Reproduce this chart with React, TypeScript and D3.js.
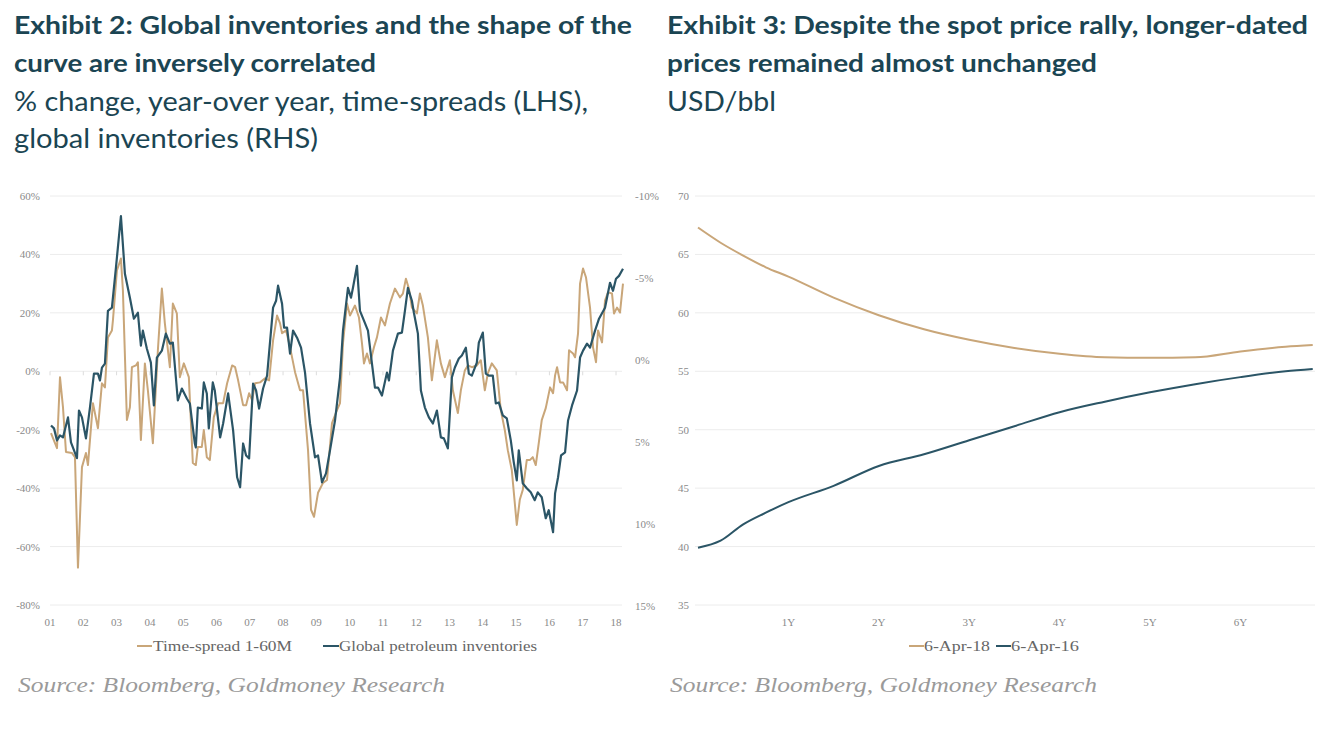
import React from "react";
import * as d3 from "d3";

// ---------- Exhibit 2 data ----------
const tanSeries: [number, number][] = [
  [2001.03, -21.2], [2001.21, -26.3], [2001.3, -2.0], [2001.39, -12.3], [2001.48, -27.6],
  [2001.66, -28.0], [2001.75, -29.4], [2001.84, -67.2], [2001.96, -32.8], [2002.08, -28.0],
  [2002.14, -32.1], [2002.29, -10.9], [2002.44, -19.5], [2002.56, -4.1], [2002.65, -5.5],
  [2002.74, 11.6], [2002.86, 14.0], [2002.89, 17.4], [2003.01, 34.5], [2003.13, 38.6],
  [2003.19, 27.6], [2003.31, -16.7], [2003.4, -12.3], [2003.46, 1.4], [2003.58, 2.0],
  [2003.64, 3.1], [2003.73, -23.5], [2003.85, 2.7], [2003.94, -6.5], [2004.09, -24.6],
  [2004.24, 7.2], [2004.36, 28.3], [2004.45, 16.4], [2004.6, 1.4], [2004.69, 23.2],
  [2004.81, 19.8], [2004.9, -2.0], [2005.02, 2.7], [2005.17, -2.0], [2005.29, -31.4],
  [2005.38, -32.1], [2005.44, -25.9], [2005.56, -25.9], [2005.62, -20.1], [2005.71, -29.4],
  [2005.8, -30.4], [2005.92, -15.7], [2006.05, -10.9], [2006.2, -10.9], [2006.32, -4.1],
  [2006.47, 2.0], [2006.56, 1.4], [2006.65, -3.1], [2006.8, -11.6], [2006.89, -11.6],
  [2006.98, -7.5], [2007.07, -9.9], [2007.16, -4.1], [2007.31, -3.8], [2007.46, -2.4],
  [2007.58, -3.1], [2007.7, 10.6], [2007.82, 19.1], [2007.91, 16.4], [2007.97, 13.0],
  [2008.09, 14.0], [2008.21, 8.2], [2008.36, -0.3], [2008.51, -6.5], [2008.6, -6.5],
  [2008.75, -27.0], [2008.84, -47.4], [2008.93, -49.8], [2009.05, -41.6], [2009.2, -38.2],
  [2009.32, -37.2], [2009.47, -17.7], [2009.62, -13.3], [2009.71, -10.9], [2009.8, 9.6],
  [2009.92, 23.2], [2010.01, 19.1], [2010.16, 22.5], [2010.28, 18.4], [2010.37, 9.6],
  [2010.43, 2.7], [2010.52, 6.1], [2010.61, 2.7], [2010.73, 8.2], [2010.82, 11.6],
  [2010.94, 18.4], [2011.06, 15.7], [2011.21, 23.2], [2011.36, 28.3], [2011.51, 25.3],
  [2011.6, 26.6], [2011.69, 31.7], [2011.78, 28.3], [2011.87, 21.8], [2012.02, 19.8],
  [2012.11, 26.6], [2012.2, 22.5], [2012.35, 11.6], [2012.47, -3.1], [2012.62, 10.6],
  [2012.74, 2.7], [2012.86, -2.0], [2013.01, 3.8], [2013.1, -6.5], [2013.25, -14.3],
  [2013.34, -6.5], [2013.46, 0.3], [2013.55, 2.0], [2013.67, 1.4], [2013.82, 2.0],
  [2013.94, 3.8], [2014.06, -6.5], [2014.15, -0.7], [2014.27, 2.7], [2014.42, 0.3],
  [2014.54, -13.3], [2014.66, -20.1], [2014.75, -27.0], [2014.87, -33.8], [2015.02, -52.6],
  [2015.11, -44.0], [2015.2, -40.6], [2015.32, -30.4], [2015.41, -30.4], [2015.5, -29.4],
  [2015.59, -32.1], [2015.68, -24.6], [2015.77, -16.7], [2015.89, -12.6], [2016.02, -5.5],
  [2016.11, -7.5], [2016.17, -1.4], [2016.23, 1.4], [2016.32, -3.8], [2016.41, -3.8],
  [2016.53, -6.5], [2016.59, 7.2], [2016.71, 6.1], [2016.77, 4.8], [2016.86, 13.0],
  [2016.92, 30.0], [2017.01, 35.2], [2017.1, 32.1], [2017.22, 21.8], [2017.31, 8.2],
  [2017.4, 3.1], [2017.46, 14.0], [2017.58, 9.9], [2017.67, 24.2], [2017.76, 27.0],
  [2017.88, 26.6], [2017.94, 19.8], [2018.03, 21.8], [2018.12, 20.1], [2018.21, 30.0],
];

const blueSeries: [number, number][] = [
  [2001.03, 3.99], [2001.12, 4.17], [2001.21, 4.9], [2001.3, 4.6], [2001.39, 4.72],
  [2001.54, 3.5], [2001.63, 5.02], [2001.81, 5.99], [2001.87, 3.08], [2001.96, 3.5],
  [2002.08, 4.78], [2002.2, 2.9], [2002.32, 0.83], [2002.44, 0.83], [2002.5, 1.25],
  [2002.56, 0.46], [2002.65, 0.22], [2002.74, -3.0], [2002.86, -3.19], [2002.98, -5.62],
  [2003.13, -8.78], [2003.25, -5.26], [2003.4, -3.8], [2003.52, -2.52], [2003.64, -2.88],
  [2003.73, -0.88], [2003.79, -1.79], [2003.91, -0.69], [2004.03, 0.16], [2004.12, 2.77],
  [2004.21, -0.15], [2004.36, -0.57], [2004.48, -1.61], [2004.6, -1.0], [2004.69, -1.06],
  [2004.84, 2.47], [2004.96, 1.74], [2005.11, 2.35], [2005.2, 2.65], [2005.35, 5.09],
  [2005.38, 5.33], [2005.44, 2.9], [2005.56, 2.96], [2005.62, 1.37], [2005.71, 2.04],
  [2005.77, 4.17], [2005.89, 1.37], [2005.95, 1.86], [2006.11, 4.72], [2006.2, 3.87],
  [2006.35, 2.04], [2006.5, 4.29], [2006.62, 7.15], [2006.71, 7.76], [2006.8, 5.09],
  [2006.89, 5.82], [2006.98, 6.0], [2007.1, 1.44], [2007.19, 1.86], [2007.28, 2.96],
  [2007.4, 1.74], [2007.52, 0.95], [2007.7, -3.19], [2007.79, -3.61], [2007.85, -4.53],
  [2007.97, -3.43], [2008.03, -1.97], [2008.12, -1.97], [2008.21, -0.39], [2008.3, -1.79],
  [2008.42, -1.36], [2008.54, -0.75], [2008.66, 0.77], [2008.81, 3.87], [2008.96, 5.94],
  [2009.05, 5.82], [2009.17, 7.46], [2009.29, 6.91], [2009.41, 5.51], [2009.56, 3.69],
  [2009.71, 1.07], [2009.8, -1.79], [2009.95, -4.4], [2010.04, -3.8], [2010.1, -4.4],
  [2010.22, -5.74], [2010.31, -3.0], [2010.43, -2.4], [2010.55, -1.79], [2010.67, 0.22],
  [2010.76, 1.68], [2010.85, 1.68], [2010.97, 2.17], [2011.12, 0.77], [2011.18, 1.25],
  [2011.3, -0.57], [2011.45, -1.61], [2011.57, -1.67], [2011.66, -3.0], [2011.75, -4.4],
  [2011.87, -3.61], [2011.93, -2.88], [2012.05, -1.61], [2012.14, 1.86], [2012.26, 2.9],
  [2012.38, 3.5], [2012.5, 3.87], [2012.62, 3.08], [2012.74, 4.72], [2012.83, 4.78],
  [2012.95, 5.39], [2013.07, 1.07], [2013.16, 0.46], [2013.28, -0.09], [2013.37, -0.27],
  [2013.49, -0.75], [2013.58, 0.83], [2013.67, 0.95], [2013.82, 0.16], [2013.88, -1.06],
  [2014.0, -1.67], [2014.09, 0.83], [2014.18, 0.95], [2014.3, 0.95], [2014.39, 2.65],
  [2014.48, 2.59], [2014.6, 3.38], [2014.72, 3.56], [2014.84, 4.9], [2014.93, 6.24],
  [2015.02, 7.34], [2015.08, 5.51], [2015.2, 7.52], [2015.32, 7.82], [2015.44, 8.07],
  [2015.56, 8.55], [2015.65, 8.07], [2015.77, 8.37], [2015.89, 9.65], [2015.98, 9.16],
  [2016.11, 10.5], [2016.17, 8.13], [2016.26, 7.15], [2016.35, 5.82], [2016.47, 5.63],
  [2016.56, 3.69], [2016.68, 2.77], [2016.83, 1.86], [2016.92, -0.15], [2017.01, -0.57],
  [2017.13, -1.0], [2017.22, -0.75], [2017.37, -1.79], [2017.49, -2.52], [2017.67, -3.19],
  [2017.82, -4.71], [2017.91, -4.22], [2018.0, -4.95], [2018.09, -5.13], [2018.21, -5.56],
];

const leftTicks = [60, 40, 20, 0, -20, -40, -60, -80];
const rightTicks = [-10, -5, 0, 5, 10, 15];
const yearTicks = d3.range(2001, 2019);
const yearLabels = ["01","02","03","04","05","06","07","08","09","10","11","12","13","14","15","16","17","18"];

// ---------- Exhibit 3 data ----------
const tenors = [0, 0.25, 0.5, 0.75, 1, 1.5, 2, 2.5, 3, 3.5, 4, 4.5, 5, 5.5, 6, 6.5, 6.8];
const curve2018 = [67.3, 66.0, 64.9, 63.9, 63.1, 61.3, 59.8, 58.6, 57.7, 57.0, 56.5, 56.2, 56.15, 56.2, 56.7, 57.1, 57.25];
const curve2016 = [39.9, 40.5, 41.9, 42.9, 43.8, 45.2, 46.9, 47.9, 49.1, 50.3, 51.5, 52.4, 53.2, 53.9, 54.5, 55.0, 55.2];
const priceTicks = [70, 65, 60, 55, 50, 45, 40, 35];
const tenorTicks = [1, 2, 3, 4, 5, 6];
const tenorLabels = ["1Y", "2Y", "3Y", "4Y", "5Y", "6Y"];

const TAN = "#c9a679";
const BLUE = "#2b5566";
const TITLE = "#1b4553";
const GRID = "#ececec";
const TICK = "#8a8a8a";
const SERIF = "'Liberation Serif', 'DejaVu Serif', serif";
const SANS = "Lato, 'Noto Sans', sans-serif";

export default function App() {
  // Exhibit 2 scales
  const x2 = d3.scaleLinear().domain([2001, 2018]).range([50, 616]);
  const yL = d3.scaleLinear().domain([-80, 60]).range([605, 196]);
  const yR = d3.scaleLinear().domain([-10, 15]).range([196, 606]);
  const tanLine = d3.line<[number, number]>().x(d => x2(d[0])).y(d => yL(d[1]));
  const blueLine = d3.line<[number, number]>().x(d => x2(d[0])).y(d => yR(d[1]));

  // Exhibit 3 scales
  const x3 = d3.scaleLinear().domain([0, 6.8]).range([698, 698 + 6.8 * 90.4]);
  const y3 = d3.scaleLinear().domain([35, 70]).range([605, 196]);
  const l3 = d3.line<number>().x((_, i) => x3(tenors[i])).curve(d3.curveMonotoneX);
  const path18 = l3.y(d => y3(d))(curve2018);
  const path16 = l3.y(d => y3(d))(curve2016);

  const titleProps = { fill: TITLE, fontFamily: SANS, lengthAdjust: "spacingAndGlyphs" as const };

  return (
    <svg width={1334} height={740} style={{ position: "absolute", left: 0, top: 0, background: "#fff" }}>
      {/* Titles left */}
      <text x={14} y={34} fontSize={25} fontWeight={700} textLength={618} {...titleProps}>Exhibit 2: Global inventories and the shape of the</text>
      <text x={14} y={72} fontSize={25} fontWeight={700} textLength={362} {...titleProps}>curve are inversely correlated</text>
      <text x={14} y={111} fontSize={26} fontWeight={400} textLength={574} {...titleProps}>% change, year-over year, time-spreads (LHS),</text>
      <text x={14} y={148} fontSize={26} fontWeight={400} textLength={304} {...titleProps}>global inventories (RHS)</text>

      {/* Titles right */}
      <text x={667} y={34} fontSize={25} fontWeight={700} textLength={641} {...titleProps}>Exhibit 3: Despite the spot price rally, longer-dated</text>
      <text x={667} y={72} fontSize={25} fontWeight={700} textLength={430} {...titleProps}>prices remained almost unchanged</text>
      <text x={667} y={111} fontSize={26} fontWeight={400} textLength={109} {...titleProps}>USD/bbl</text>

      {/* Exhibit 2 grid */}
      {leftTicks.map(t => (
        <line key={"g" + t} x1={50} x2={622} y1={yL(t)} y2={yL(t)} stroke={GRID} strokeWidth={1} />
      ))}
      {yearTicks.map(y => (
        <line key={"yt" + y} x1={x2(y)} x2={x2(y)} y1={yL(0)} y2={yL(0) + 4} stroke="#dcdcdc" strokeWidth={1} />
      ))}
      {leftTicks.map(t => (
        <text key={"lt" + t} x={40} y={yL(t) + 4} textAnchor="end" fontSize={11} fill={TICK} fontFamily={SERIF}>{t + "%"}</text>
      ))}
      {rightTicks.map(t => (
        <text key={"rt" + t} x={635} y={yR(t) + 4} fontSize={11} fill={TICK} fontFamily={SERIF}>{t + "%"}</text>
      ))}
      {yearTicks.map((y, i) => (
        <text key={"yl" + y} x={x2(y)} y={626} textAnchor="middle" fontSize={11} fill={TICK} fontFamily={SERIF}>{yearLabels[i]}</text>
      ))}
      <path d={tanLine(tanSeries) || ""} fill="none" stroke={TAN} strokeWidth={2} strokeLinejoin="round" />
      <path d={blueLine(blueSeries) || ""} fill="none" stroke={BLUE} strokeWidth={2.2} strokeLinejoin="round" />

      {/* Exhibit 2 legend */}
      <line x1={137} x2={152} y1={646} y2={646} stroke={TAN} strokeWidth={2} />
      <text x={153} y={651} fontSize={15} fill="#666" fontFamily={SERIF} textLength={139} lengthAdjust="spacingAndGlyphs">Time-spread 1-60M</text>
      <line x1={323} x2={339} y1={646} y2={646} stroke={BLUE} strokeWidth={2} />
      <text x={339} y={651} fontSize={15} fill="#666" fontFamily={SERIF} textLength={198} lengthAdjust="spacingAndGlyphs">Global petroleum inventories</text>

      {/* Exhibit 3 grid */}
      {priceTicks.map(t => (
        <line key={"pg" + t} x1={695} x2={1315} y1={y3(t)} y2={y3(t)} stroke={GRID} strokeWidth={1} />
      ))}
      {priceTicks.map(t => (
        <text key={"pl" + t} x={689} y={y3(t) + 4} textAnchor="end" fontSize={11} fill={TICK} fontFamily={SERIF}>{t}</text>
      ))}
      {tenorTicks.map((t, i) => (
        <text key={"tl" + t} x={x3(t)} y={626} textAnchor="middle" fontSize={11} fill={TICK} fontFamily={SERIF}>{tenorLabels[i]}</text>
      ))}
      <path d={path18 || ""} fill="none" stroke={TAN} strokeWidth={2} />
      <path d={path16 || ""} fill="none" stroke={BLUE} strokeWidth={2} />

      {/* Exhibit 3 legend */}
      <line x1={909} x2={924} y1={646} y2={646} stroke={TAN} strokeWidth={2} />
      <text x={924} y={651} fontSize={15} fill="#666" fontFamily={SERIF} textLength={66} lengthAdjust="spacingAndGlyphs">6-Apr-18</text>
      <line x1={996} x2={1011} y1={646} y2={646} stroke={BLUE} strokeWidth={2} />
      <text x={1011} y={651} fontSize={15} fill="#666" fontFamily={SERIF} textLength={68} lengthAdjust="spacingAndGlyphs">6-Apr-16</text>

      {/* Sources */}
      <text x={18} y={692} fontSize={21} fontStyle="italic" fill="#9a9a9a" fontFamily={SERIF} textLength={427} lengthAdjust="spacingAndGlyphs">Source: Bloomberg, Goldmoney Research</text>
      <text x={670} y={692} fontSize={21} fontStyle="italic" fill="#9a9a9a" fontFamily={SERIF} textLength={427} lengthAdjust="spacingAndGlyphs">Source: Bloomberg, Goldmoney Research</text>
    </svg>
  );
}
